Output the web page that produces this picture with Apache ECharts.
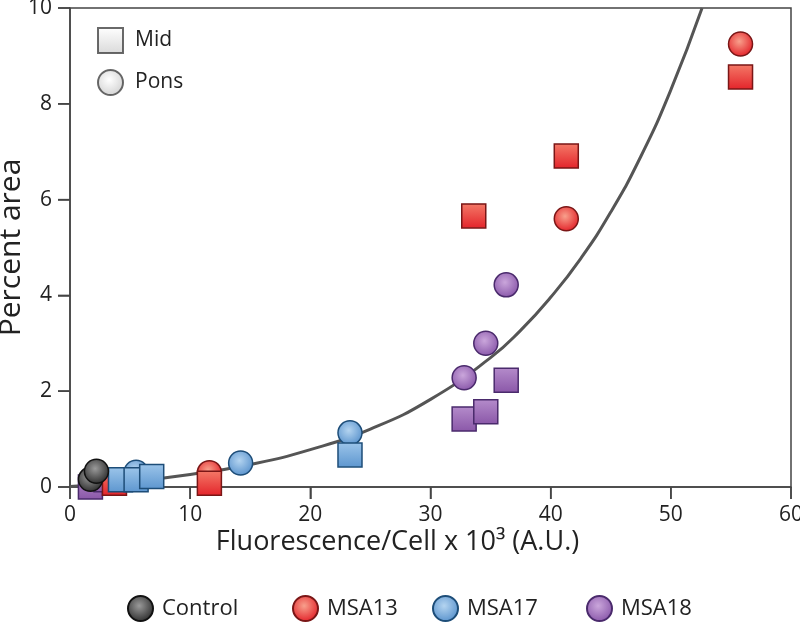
<!DOCTYPE html>
<html>
<head>
<meta charset="utf-8">
<script src="https://cdn.jsdelivr.net/npm/echarts@6/dist/echarts.min.js"></script>
<style>html,body{margin:0;padding:0;background:#fff}#c{width:800px;height:622px}</style>
</head>
<body>
<div id="c"></div>
<script>
// ---- data ----
const groups = ['Control', 'MSA13', 'MSA17', 'MSA18'];
const controlPons = [[1.7, 0.16], [2.2, 0.33]];
const controlMid = [];
const msa13Pons = [[11.6, 0.3], [41.3, 5.6], [55.8, 9.25]];
const msa13Mid = [[3.7, 0.08], [11.6, 0.08], [33.6, 5.66], [41.3, 6.91], [55.8, 8.56]];
const msa17Pons = [[5.5, 0.31], [14.2, 0.5], [23.3, 1.13]];
const msa17Mid = [[4.2, 0.15], [5.5, 0.15], [6.8, 0.22], [23.3, 0.67]];
const msa18Pons = [[32.8, 2.28], [34.6, 3.0], [36.3, 4.22]];
const msa18Mid = [[1.7, 0.0], [3.0, 0.15], [32.8, 1.42], [34.6, 1.57], [36.3, 2.23]];
const curveX = [0, 5, 10, 15, 20, 25, 30, 35, 37.5, 40, 42.5, 45, 47.5, 50, 52.6];
const curveY = [0.01, 0.11, 0.26, 0.47, 0.78, 1.21, 1.83, 2.70, 3.27, 3.96, 4.77, 5.74, 6.90, 8.29, 10.0];
const xTicks = [0, 60, 10];
const yTicks = [0, 10, 2];
const xTickValues = [0, 10, 20, 30, 40, 50, 60];
const yTickValues = [0, 2, 4, 6, 8, 10];

// ---- styles ----
const pal = {
  Control: {c0: '#9a9a9a', c1: '#2e2e2e', s0: '#8a8a8a', s1: '#333', border: '#111'},
  MSA13: {c0: '#f8a08c', c1: '#e3232a', s0: '#f47a68', s1: '#e3232a', border: '#7a1616'},
  MSA17: {c0: '#b4d4f0', c1: '#5a93cd', s0: '#9cc5ea', s1: '#5d96cf', border: '#1d4d78'},
  MSA18: {c0: '#caa6db', c1: '#8a58aa', s0: '#b58ccb', s1: '#8a57a8', border: '#4a2a6c'}
};
function radial(a, b) {
  return {type: 'radial', x: 0.45, y: 0.4, r: 0.6, colorStops: [{offset: 0, color: a}, {offset: 1, color: b}]};
}
function linear(a, b) {
  return {type: 'linear', x: 0, y: 0, x2: 0, y2: 1, colorStops: [{offset: 0, color: a}, {offset: 1, color: b}]};
}
const dataMap = {
  Control: [controlPons, controlMid],
  MSA13: [msa13Pons, msa13Mid],
  MSA17: [msa17Pons, msa17Mid],
  MSA18: [msa18Pons, msa18Mid]
};
const order = ['MSA18', 'MSA13', 'MSA17', 'Control'];
const FONT = 'Open Sans';
const TICK_LEN = 12;

const series = [{
  type: 'line',
  name: 'fit',
  data: curveX.map((x, i) => [x, curveY[i]]),
  smooth: true,
  symbol: 'none',
  lineStyle: {color: '#555', width: 3},
  z: 1,
  silent: true
}];
// outward tick marks, positioned through the axis scales
series.push({
  type: 'custom', name: 'xticks', silent: true, clip: false, z: 0,
  data: xTickValues.map(v => [v, yTicks[0]]),
  renderItem: (params, api) => {
    const p = api.coord([api.value(0), api.value(1)]);
    return {type: 'line', shape: {x1: p[0], y1: p[1], x2: p[0], y2: p[1] + TICK_LEN},
      style: {stroke: '#444', lineWidth: 1.5}};
  }
});
series.push({
  type: 'custom', name: 'yticks', silent: true, clip: false, z: 0,
  data: yTickValues.map(v => [xTicks[0], v]),
  renderItem: (params, api) => {
    const p = api.coord([api.value(0), api.value(1)]);
    return {type: 'line', shape: {x1: p[0], y1: p[1], x2: p[0] - TICK_LEN, y2: p[1]},
      style: {stroke: '#444', lineWidth: 1.5}};
  }
});
order.forEach(g => {
  const p = pal[g];
  const [pons, mid] = dataMap[g];
  const data = [];
  pons.forEach(v => data.push({value: v, symbol: 'circle'}));
  mid.forEach(v => data.push({value: v, symbol: 'rect', itemStyle: {color: linear(p.s0, p.s1)}}));
  series.push({
    type: 'scatter',
    name: g,
    symbol: 'circle',
    symbolSize: 24,
    data: data,
    itemStyle: {color: radial(p.c0, p.c1), borderColor: p.border, borderWidth: 1.5, opacity: 1},
    z: 3
  });
});
series.push({type: 'scatter', name: 'Mid', symbol: 'rect', data: [],
  itemStyle: {color: linear('#ffffff', '#d0d0d0'), borderColor: '#444', borderWidth: 1.5}});
series.push({type: 'scatter', name: 'Pons', symbol: 'circle', data: [],
  itemStyle: {color: radial('#ffffff', '#c8c8c8'), borderColor: '#444', borderWidth: 1.5}});

const legendLefts = [127, 292, 432, 586];
const legends = groups.map((g, i) => ({
  data: [g], left: legendLefts[i], top: 595, padding: 0,
  itemWidth: 25, itemHeight: 25, icon: 'circle',
  textStyle: {fontFamily: FONT, fontSize: 22, color: '#222', padding: [0, 0, 0, 4]},
  selectedMode: false
}));
legends.push({
  data: [{name: 'Mid', icon: 'rect'}, {name: 'Pons', icon: 'circle'}],
  orient: 'vertical', left: 97, top: 27, padding: 0, itemGap: 15,
  itemWidth: 25, itemHeight: 25,
  textStyle: {fontFamily: FONT, fontSize: 21, color: '#222', padding: [0, 0, 0, 7]},
  selectedMode: false
});

const tickStyle = {show: true, length: TICK_LEN, lineStyle: {color: '#444', width: 1.5}};

const chart = echarts.init(document.getElementById('c'), null, {renderer: 'canvas'});
chart.setOption({
  animation: false,
  backgroundColor: '#fff',
  textStyle: {fontFamily: FONT},
  grid: {left: 70, right: 9, top: 8, bottom: 135, containLabel: false, outerBoundsMode: 'none',
    show: true, borderColor: '#444', borderWidth: 1.5, backgroundColor: 'transparent'},
  legend: legends,
  xAxis: {
    type: 'value', min: xTicks[0], max: xTicks[1], interval: xTicks[2], position: 'bottom',
    name: 'Fluorescence/Cell x 10³ (A.U.)', nameLocation: 'middle', nameGap: 42, nameMoveOverlap: false,
    nameTextStyle: {fontFamily: FONT, fontSize: 27, color: '#222', padding: [0, 66, 0, 0]},
    axisLine: {show: true, onZero: false, lineStyle: {color: '#444', width: 1.5}},
    axisTick: tickStyle,
    axisLabel: {fontFamily: FONT, fontSize: 21, color: '#222', margin: 18},
    splitLine: {show: false}
  },
  yAxis: {
    type: 'value', min: yTicks[0], max: yTicks[1], interval: yTicks[2], position: 'left',
    name: 'Percent area', nameLocation: 'middle', nameGap: 44, nameRotate: 90, nameMoveOverlap: false,
    nameTextStyle: {fontFamily: FONT, fontSize: 30, color: '#222'},
    axisLine: {show: true, onZero: false, lineStyle: {color: '#444', width: 1.5}},
    axisTick: tickStyle,
    axisLabel: {fontFamily: FONT, fontSize: 21, color: '#222', margin: 18},
    splitLine: {show: false}
  },
  series: series
});
</script>
</body>
</html>
